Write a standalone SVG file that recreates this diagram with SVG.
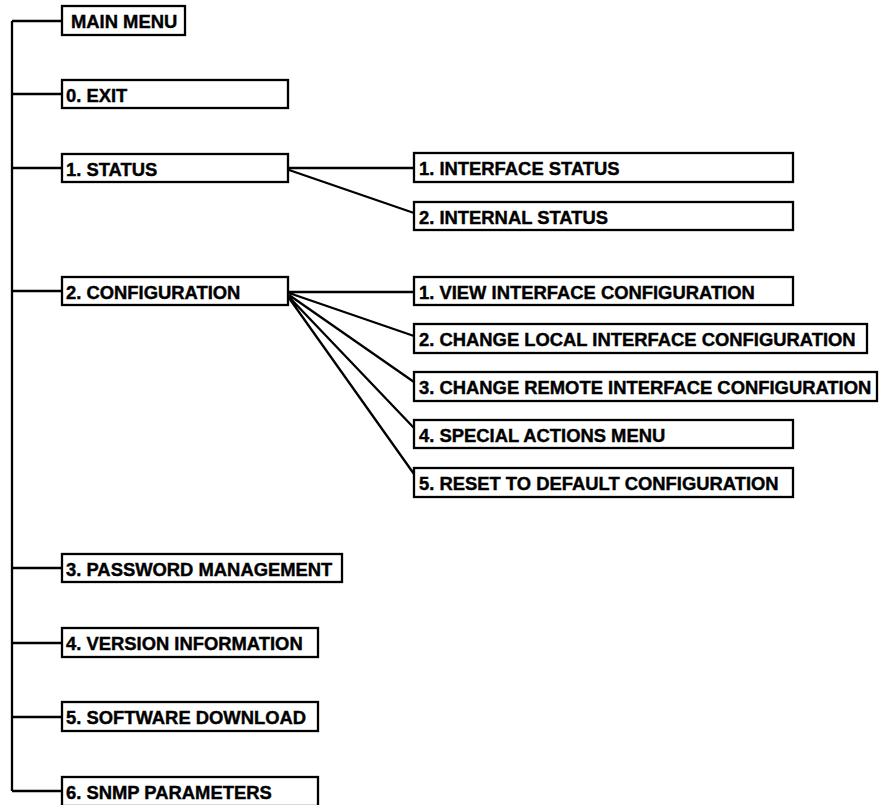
<svg xmlns="http://www.w3.org/2000/svg" width="883" height="805" viewBox="0 0 883 805">
<style>
.box{fill:#fff;stroke:#000;stroke-width:2.3}
.t{font-family:"Liberation Sans",Arial,sans-serif;font-weight:bold;font-size:18.4px;fill:#000;stroke:#000;stroke-width:0.4}
.c{stroke:#000;stroke-width:2.3;fill:none}
</style>
<rect width="883" height="805" fill="#fff"/>
<g id="connectors">
<path class="c" d="M12 21 V791"/>
<path class="c" d="M12 21 H62 M12 94 H62 M12 168 H62 M12 291 H62 M12 568 H62 M12 643 H62 M12 717 H62 M12 791 H62"/>
<path class="c" d="M288 168 H414 M289 170 L414 213"/>
<path class="c" d="M288 292 H414 M289 293 L414 336 M289 295 L414 382 M289 297 L414 428 M289 298 L414 474"/>
</g>
<g id="main-menu"><rect class="box" x="62" y="6" width="123" height="29"/><text class="t" x="71" y="28">MAIN MENU</text></g>
<g id="exit"><rect class="box" x="62" y="80" width="226" height="28"/><text class="t" x="66" y="102">0. EXIT</text></g>
<g id="status"><rect class="box" x="62" y="154" width="226" height="28"/><text class="t" x="66" y="176">1. STATUS</text></g>
<g id="configuration"><rect class="box" x="62" y="277" width="226" height="28"/><text class="t" x="66" y="299">2. CONFIGURATION</text></g>
<g id="password"><rect class="box" x="62" y="554" width="280" height="28"/><text class="t" x="66" y="576">3. PASSWORD MANAGEMENT</text></g>
<g id="version"><rect class="box" x="62" y="628" width="256" height="29"/><text class="t" x="66" y="650">4. VERSION INFORMATION</text></g>
<g id="software"><rect class="box" x="62" y="702" width="256" height="29"/><text class="t" x="66" y="724">5. SOFTWARE DOWNLOAD</text></g>
<g id="snmp"><rect class="box" x="62" y="777" width="256" height="29"/><text class="t" x="66" y="799">6. SNMP PARAMETERS</text></g>
<g id="interface-status"><rect class="box" x="414" y="153" width="379" height="29"/><text class="t" x="419" y="175">1. INTERFACE STATUS</text></g>
<g id="internal-status"><rect class="box" x="414" y="202" width="379" height="28"/><text class="t" x="419" y="224">2. INTERNAL STATUS</text></g>
<g id="view-config"><rect class="box" x="414" y="277" width="379" height="28"/><text class="t" x="419" y="299">1. VIEW INTERFACE CONFIGURATION</text></g>
<g id="local-config"><rect class="box" x="414" y="324" width="453" height="29"/><text class="t" x="419" y="346">2. CHANGE LOCAL INTERFACE CONFIGURATION</text></g>
<g id="remote-config"><rect class="box" x="414" y="372" width="463" height="29"/><text class="t" x="419" y="394">3. CHANGE REMOTE INTERFACE CONFIGURATION</text></g>
<g id="special-actions"><rect class="box" x="414" y="420" width="379" height="28"/><text class="t" x="419" y="442">4. SPECIAL ACTIONS MENU</text></g>
<g id="reset-default"><rect class="box" x="414" y="468" width="379" height="29"/><text class="t" x="419" y="490">5. RESET TO DEFAULT CONFIGURATION</text></g>
</svg>
